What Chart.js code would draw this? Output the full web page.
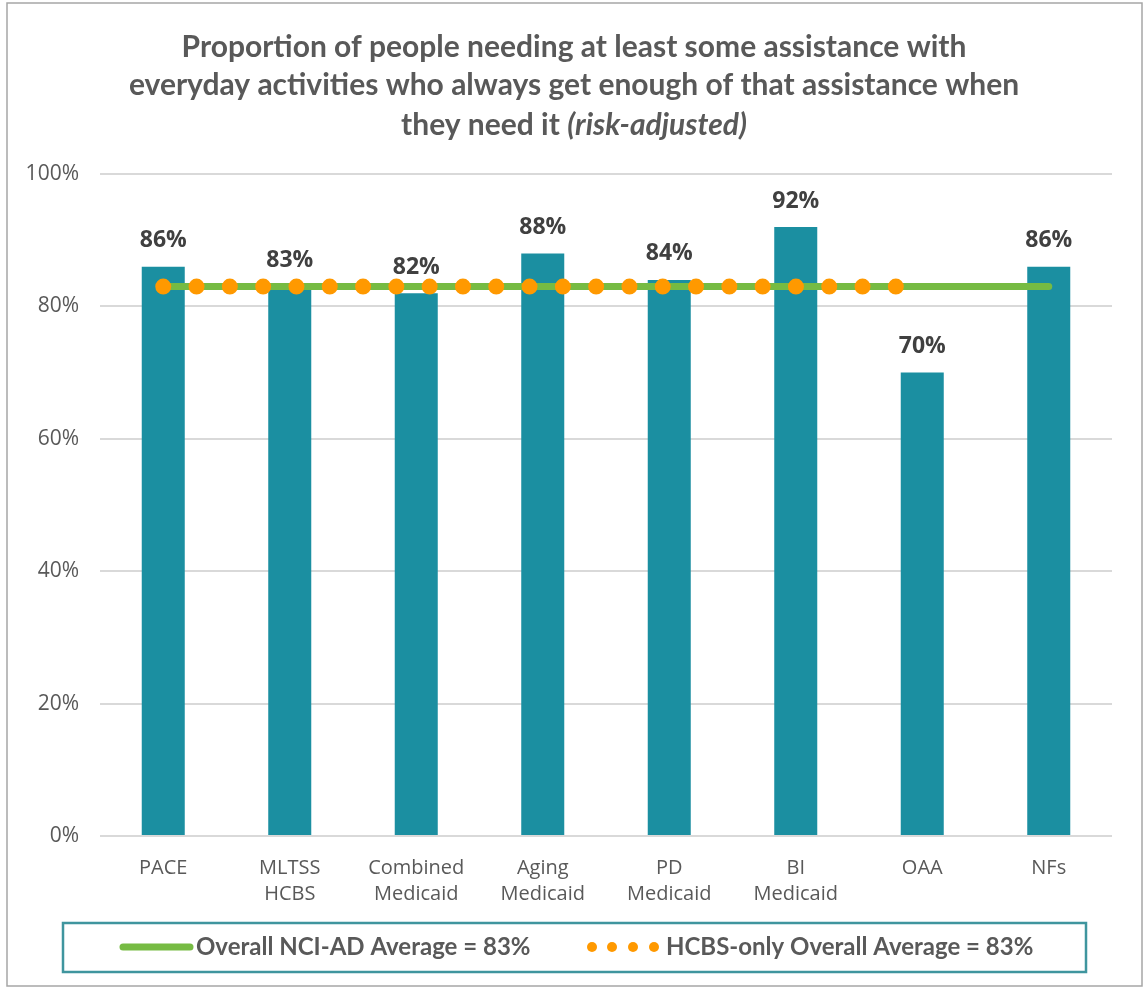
<!DOCTYPE html>
<html>
<head>
<meta charset="utf-8">
<script src="https://cdn.jsdelivr.net/npm/chart.js@4.4.1/dist/chart.umd.min.js"></script>
<style>
    body { margin: 0; background: #fff; }
    #wrap { width: 1144px; height: 988px; }
</style>
</head>
<body>
<div id="wrap"><canvas id="barChart" width="1144" height="988"></canvas></div>
<script>
// カテゴリ
const categories = [
    ['PACE'], ['MLTSS', 'HCBS'], ['Combined', 'Medicaid'], ['Aging', 'Medicaid'],
    ['PD', 'Medicaid'], ['BI', 'Medicaid'], ['OAA'], ['NFs']
];
// 棒の値 (%)
const barValues = [86, 83, 82, 88, 84, 92, 70, 86];
// 全体平均
const overallAverage = [83, 83, 83, 83, 83, 83, 83, 83];
// HCBSのみの平均 (NFsは対象外)
const hcbsAverage = [83, 83, 83, 83, 83, 83, 83, null];
// Y軸目盛り
const yTicks = [0, 20, 40, 60, 80, 100];

const titleLines = [
    [{ text: 'Proportion of people needing at least some assistance with', italic: false }],
    [{ text: 'everyday activities who always get enough of that assistance when', italic: false }],
    [{ text: 'they need it ', italic: false }, { text: '(risk-adjusted)', italic: true }]
];
const legendItems = [
    { label: 'Overall NCI-AD Average = 83%', kind: 'line' },
    { label: 'HCBS-only Overall Average = 83%', kind: 'dots' }
];

const TEAL = '#1b8fa1';
const GREEN = '#76bb43';
const ORANGE = '#ff9900';
const GRAY = '#595959';

/**
 * 枠線・タイトル・ラベル・凡例を描くプラグイン
 */
const decorPlugin = {
    id: 'decor',
    beforeDraw(chart) {
        const ctx = chart.ctx;
        ctx.save();
        ctx.strokeStyle = '#a6a6a6';
        ctx.lineWidth = 1.5;
        ctx.strokeRect(7, 3, 1135, 983);
        ctx.restore();
    },
    afterDatasetsDraw(chart) {
        const ctx = chart.ctx;
        // 棒の上の値ラベル
        const meta = chart.getDatasetMeta(2);
        ctx.save();
        ctx.fillStyle = '#404040';
        ctx.font = 'bold 23px "Open Sans"';
        ctx.textAlign = 'center';
        ctx.textBaseline = 'middle';
        meta.data.forEach((bar, i) => {
            ctx.fillText(barValues[i] + '%', bar.x, bar.y - 26);
        });
        ctx.restore();
    },
    afterDraw(chart) {
        const ctx = chart.ctx;
        ctx.save();
        // タイトル
        ctx.fillStyle = GRAY;
        ctx.textBaseline = 'middle';
        ctx.textAlign = 'left';
        const titleY = [47, 85, 125];
        titleLines.forEach((parts, li) => {
            let total = 0;
            parts.forEach(p => {
                ctx.font = (p.italic ? 'italic ' : '') + 'bold 30px Lato';
                total += ctx.measureText(p.text).width;
            });
            let x = 574 - total / 2;
            parts.forEach(p => {
                ctx.font = (p.italic ? 'italic ' : '') + 'bold 30px Lato';
                ctx.fillText(p.text, x, titleY[li]);
                x += ctx.measureText(p.text).width;
            });
        });

        // 凡例
        ctx.strokeStyle = '#3f959e';
        ctx.lineWidth = 2.5;
        ctx.strokeRect(63, 923, 1023, 49);
        ctx.font = 'bold 24px Lato';
        ctx.fillStyle = GRAY;
        const ly = 947;
        // 線の見本
        ctx.strokeStyle = GREEN;
        ctx.lineWidth = 7;
        ctx.lineCap = 'round';
        ctx.beginPath();
        ctx.moveTo(123, ly);
        ctx.lineTo(190, ly);
        ctx.stroke();
        ctx.fillText(legendItems[0].label, 196, ly);
        // 点の見本
        ctx.fillStyle = ORANGE;
        [592, 612, 633, 654].forEach(x => {
            ctx.beginPath();
            ctx.arc(x, ly, 5, 0, Math.PI * 2);
            ctx.fill();
        });
        ctx.fillStyle = GRAY;
        ctx.fillText(legendItems[1].label, 666, ly);
        ctx.restore();
    }
};

/**
 * グラフ作成
 */
function createChart() {
    const ctx = document.getElementById('barChart').getContext('2d');
    new Chart(ctx, {
        type: 'bar',
        data: {
            labels: categories,
            datasets: [
                {
                    type: 'line',
                    label: legendItems[1].label,
                    data: hcbsAverage,
                    borderColor: ORANGE,
                    borderWidth: 16,
                    borderDash: [0, 33.3],
                    borderCapStyle: 'round',
                    pointRadius: 0,
                    fill: false,
                    order: 0
                },
                {
                    type: 'line',
                    label: legendItems[0].label,
                    data: overallAverage,
                    borderColor: GREEN,
                    borderWidth: 7,
                    borderCapStyle: 'round',
                    pointRadius: 0,
                    fill: false,
                    order: 1
                },
                {
                    label: 'value',
                    data: barValues,
                    backgroundColor: TEAL,
                    barPercentage: 0.34,
                    categoryPercentage: 1,
                    order: 2
                }
            ]
        },
        options: {
            responsive: false,
            animation: false,
            devicePixelRatio: 1,
            layout: {
                padding: { left: 0, right: 32, top: 174, bottom: 72 }
            },
            scales: {
                x: {
                    grid: { display: false },
                    border: { display: false },
                    ticks: {
                        color: GRAY,
                        font: { family: 'Open Sans', size: 20, lineHeight: 1.3 },
                        padding: 11,
                        maxRotation: 0,
                        autoSkip: false
                    },
                    afterFit: s => { s.height = 80; }
                },
                y: {
                    min: 0,
                    max: 100,
                    afterBuildTicks: s => { s.ticks = yTicks.map(v => ({ value: v })); },
                    grid: { color: '#d9d9d9', lineWidth: 2, drawTicks: false },
                    border: { display: false },
                    ticks: {
                        color: GRAY,
                        font: { family: 'Open Sans', size: 21 },
                        padding: 21,
                        callback: v => v + '%'
                    },
                    afterFit: s => { s.width = 100; }
                }
            },
            plugins: {
                legend: { display: false },
                tooltip: { enabled: false }
            }
        },
        plugins: [decorPlugin]
    });
}

// メイン処理
createChart();
</script>
</body>
</html>
